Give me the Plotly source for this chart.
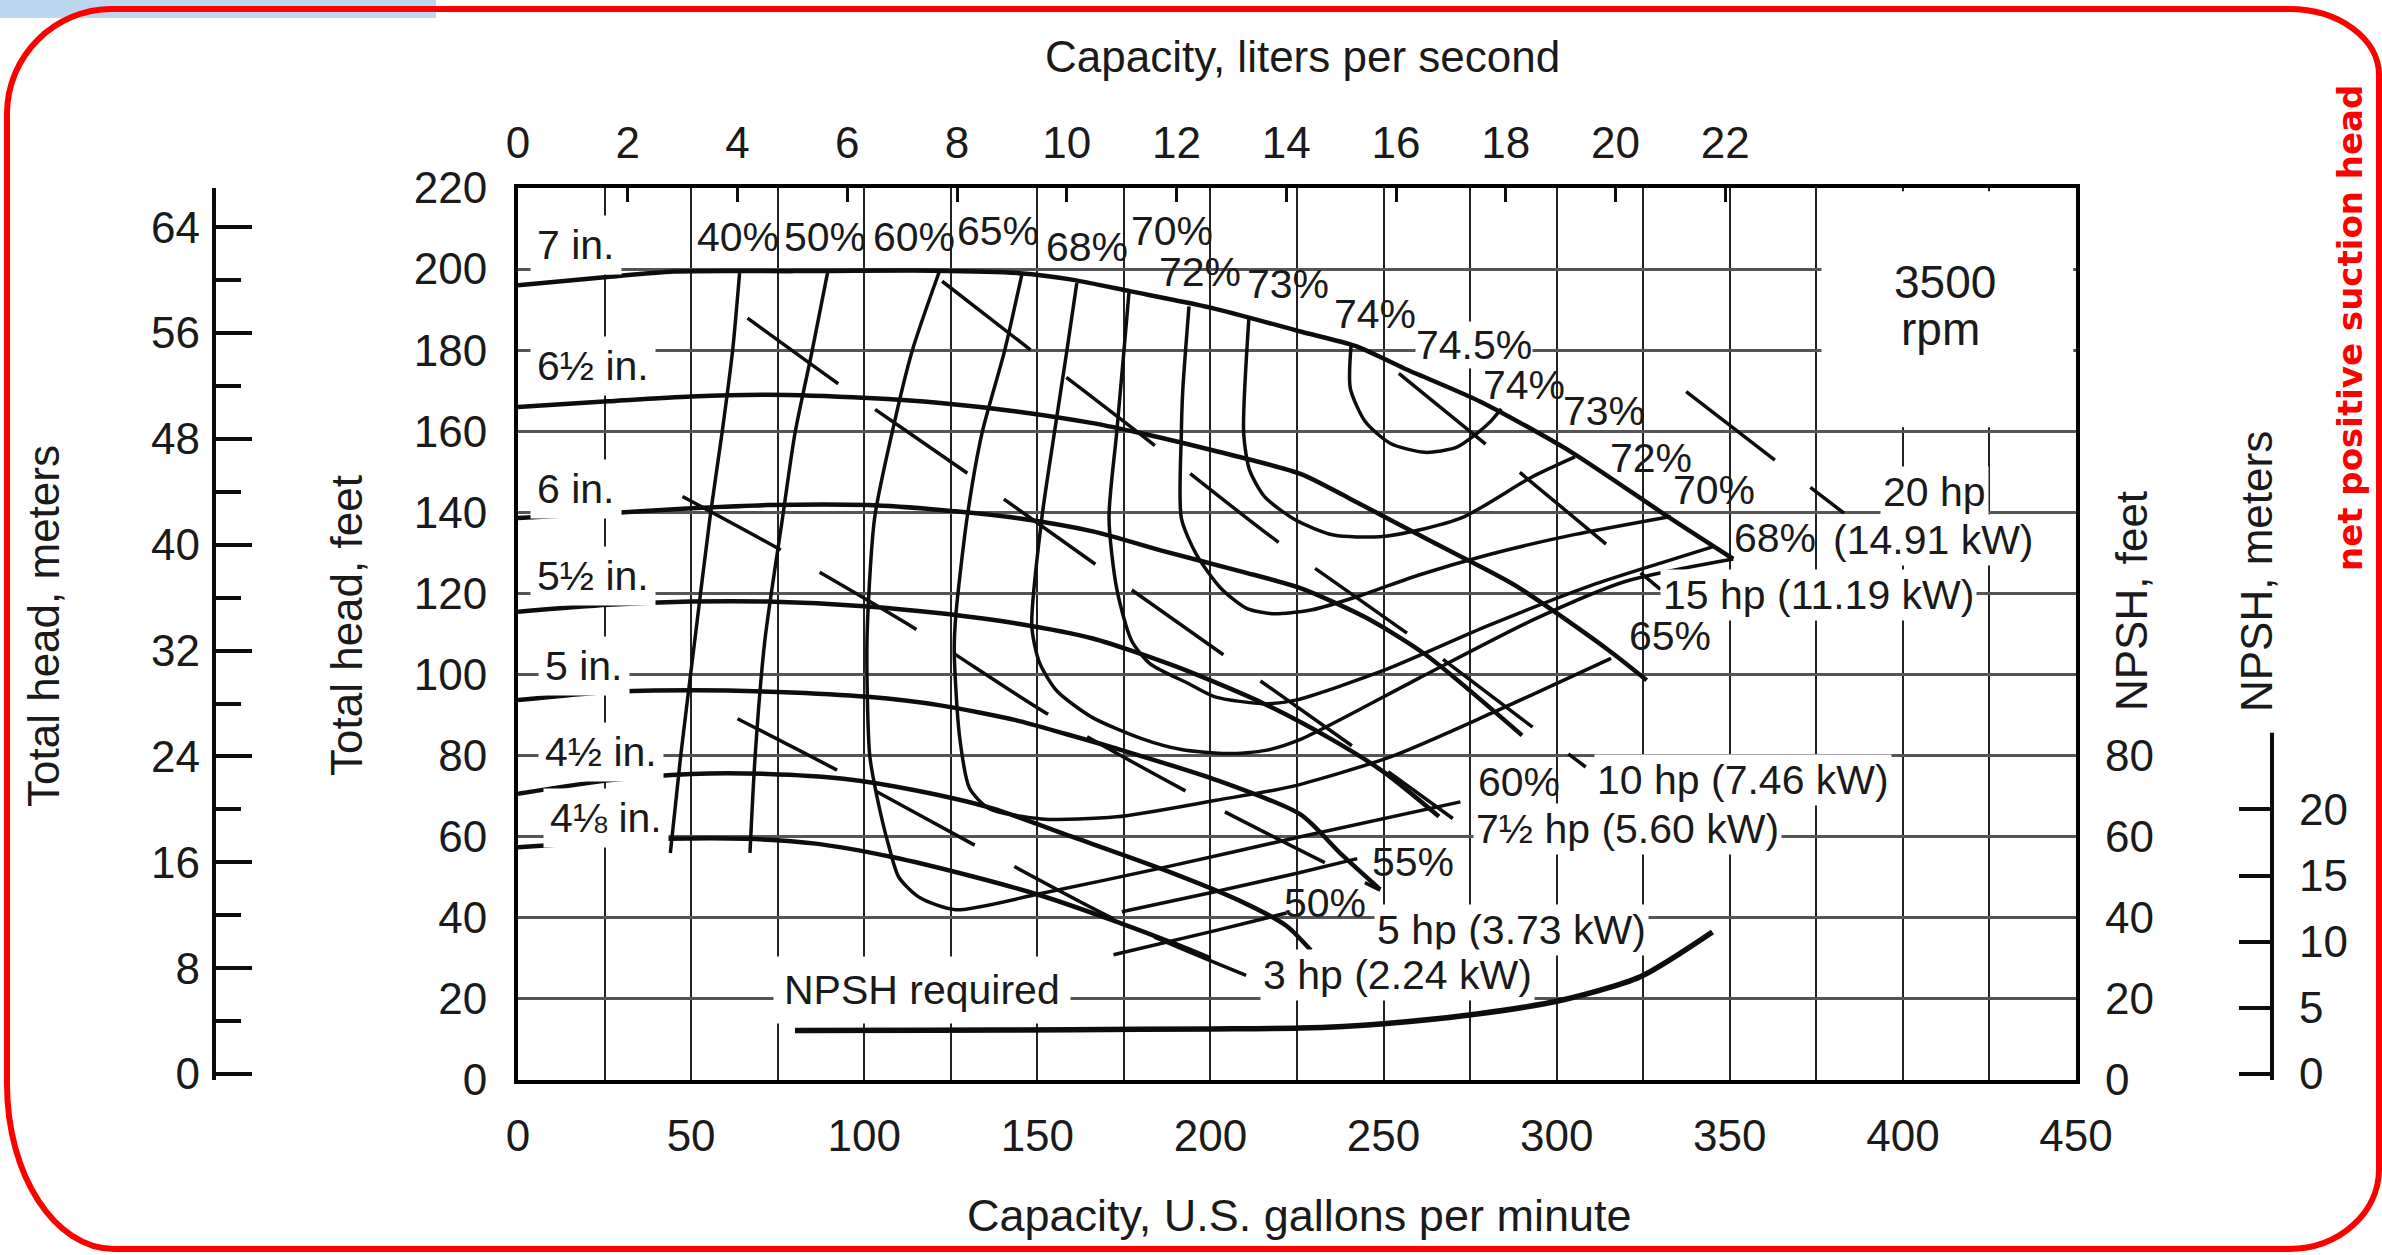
import plotly.graph_objects as go

# ---------------- data ----------------
gpm_ticks = [0, 50, 100, 150, 200, 250, 300, 350, 400, 450]
gpm_minor_grid = [25, 75, 125, 175, 225, 275, 325, 375, 425]
lps_ticks = [0, 2, 4, 6, 8, 10, 12, 14, 16, 18, 20, 22]
ft_ticks = [0, 20, 40, 60, 80, 100, 120, 140, 160, 180, 200, 220]
m_ticks = [0, 8, 16, 24, 32, 40, 48, 56, 64]
m_minor_ticks = [4, 12, 20, 28, 36, 44, 52, 60]
npsh_ft_ticks = [0, 20, 40, 60, 80]
npsh_m_ticks = [0, 5, 10, 15, 20]

# impeller head-capacity curves (gpm, ft)
d7_q = [0, 25, 45, 80, 120, 145, 160, 177, 200, 226, 242, 256, 278, 304, 332, 351]
d7_h = [196, 198, 199.4, 199.5, 199.6, 199, 197.4, 194.5, 190.5, 184.6, 181, 175.5, 167.3, 155, 139, 128.5]
d65_q = [0, 26, 50, 72, 101, 122, 144, 166, 180, 202, 226, 240, 265, 288, 315, 326]
d65_h = [166, 167.4, 168.6, 169, 168.2, 167, 164.9, 162, 159.5, 155, 149.5, 143.5, 132.3, 122, 106, 98.6]
d6_q = [0, 26, 50, 72, 101, 122, 144, 166, 187, 209, 226, 245, 262, 290]
d6_h = [138.6, 139.8, 141, 141.8, 141.8, 140.6, 138.6, 135.3, 130.3, 125.4, 121.3, 114, 105, 85]
d55_q = [0, 26, 50, 72, 101, 122, 144, 166, 190, 215, 235, 250, 266]
d55_h = [115.5, 117.2, 118, 118, 116.8, 115.1, 112.6, 108.9, 102, 93, 84, 76, 65]
d5_q = [0, 26, 50, 75, 101, 122, 144, 158, 173, 202, 226, 238, 249]
d5_h = [93.7, 95.7, 96.1, 95.7, 94.5, 92.4, 88.7, 85.4, 81.7, 73.9, 65.5, 55.5, 47]
d45_q = [0, 26, 50, 72, 94, 115, 137, 160, 187, 209, 222, 229]
d45_h = [70.6, 73.9, 75.5, 75.5, 74.3, 71.4, 67, 60, 51.7, 44, 38, 32]
d418_q = [0, 20, 43, 66, 86, 108, 130, 151, 173, 190, 200]
d418_h = [57.4, 58.5, 59.5, 59.5, 58.3, 55, 50.5, 45.5, 39, 33.5, 30]

# efficiency contours (gpm, ft)
e40_q = [64, 62, 59, 55.5, 51, 47, 44]
e40_h = [199, 180, 160, 139, 108, 80, 56]
e50_q = [89.5, 85, 80, 76.4, 71.3, 68.5, 67]
e50_h = [199.5, 180, 159.5, 138.6, 108.4, 80, 56]
e60_q = [121.7, 113.8, 108, 103, 100.8, 101.6, 103.7, 107, 110, 116, 126.4, 151, 187, 226, 272.2]
e60_h = [199.4, 179.7, 159.5, 138.6, 108.4, 80, 69.8, 58, 50, 45, 42, 46, 52.5, 60, 68.6]
e65_q = [145.5, 140.5, 134, 129.7, 126.5, 126, 127.5, 130.4, 136, 151.3, 172.9, 201.7, 223, 252, 281, 315.7]
e65_h = [198.6, 179.7, 159.5, 138.6, 115, 106, 85, 72, 67, 64.4, 64.9, 69, 72.3, 79.7, 90.4, 104]
e68_q = [161.4, 158.5, 154.9, 151.3, 148.4, 150.6, 155.6, 165.7, 180.1, 191.6, 205, 216, 226, 260, 293, 320, 351]
e68_h = [196.6, 179.7, 159.5, 138.6, 112, 103, 96, 89.5, 84.2, 81.5, 80.5, 81.3, 84, 99, 113.4, 123, 128.5]
e70_q = [176.5, 175, 172.9, 170.7, 172.9, 177.2, 182.5, 193.6, 201.3, 215.7, 224.6, 250, 280, 310, 330, 345]
e70_h = [194.5, 179.7, 159.5, 138.6, 121.3, 108.4, 102.7, 97.8, 94.5, 92.8, 93.7, 101, 112, 122, 127.5, 131.5]
e72_q = [193.8, 192, 191.6, 191.6, 196, 203, 210.3, 217.9, 229, 243.4, 260, 280, 305, 333]
e72_h = [190.8, 170, 159.5, 138.6, 129.5, 121.3, 116.4, 115, 115.9, 119.5, 124.5, 129.5, 134.5, 139]
e73_q = [211.1, 209.6, 211.3, 215.7, 224.6, 235.6, 248.9, 259.9, 273.2, 293, 305.3]
e73_h = [187.9, 159.5, 150.4, 143.8, 138.1, 134.4, 134, 135.6, 138.9, 148.8, 153.7]
e74_q = [240.6, 240.4, 244.7, 252, 262, 271, 277, 281, 284]
e74_h = [181, 170.6, 162.4, 157, 154.8, 156, 159.5, 162.5, 165.5]
e55_q = [174.4, 200, 225, 242.4]
e55_h = [41.5, 46.2, 51, 54.6]
e50b_q = [172, 201.7, 222]
e50b_h = [30.9, 36.9, 41.2]

# brake-horsepower lines (gpm, ft)
hp3_q = [63.4, 92.2, 131.1, 172.9, 210.3]
hp3_h = [89.1, 76.4, 58.3, 39.4, 25.8]
hp5_q = [47.5, 74.9, 115.3, 152.7, 200, 249]
hp5_h = [143.9, 131.2, 111, 90.4, 68, 46.8]
hp75_q = [66.3, 92.2, 129.7, 167.1, 246.2, 270]
hp75_h = [187.9, 171.9, 149.7, 127, 79.2, 64.5]
hp10_q = [122.5, 146.2, 180, 217.5, 262, 290, 308.4]
hp10_h = [197, 181.3, 159.1, 134, 107, 89, 77.2]
hp15_q = [254.4, 279.8, 330]
hp15_h = [174.3, 156.6, 121]
hp20_q = [337.4, 364.2, 383]
hp20_h = [169.8, 152.1, 139.8]

# NPSH required (gpm, ft)
npsh_q = [80, 120, 160, 200, 226, 250, 277, 301, 324, 345]
npsh_h = [12.2, 12.3, 12.4, 12.6, 12.8, 13.9, 16.3, 19.6, 25.4, 36.5]

# labels
dia_text = ["7 in.", "6½ in.", "6 in.", "5½ in.", "5 in.", "4½ in.", "4⅛ in."]
dia_q = [3.6, 3.6, 3.6, 3.6, 5.8, 5.8, 7.2]
dia_h = [206, 176, 145.8, 124.2, 102, 81, 64.5]

pct_top_text = ["40%", "50%", "60%", "65%", "68%", "70%", "72%", "73%", "74%", "74.5%"]
pct_top_q = [63.4, 88.6, 114.5, 138.7, 164.2, 189, 197, 222.5, 247.4, 276]
pct_top_h = [208, 208, 208, 209.5, 205.4, 209.3, 199.4, 196.3, 189, 181.3]

pct_right_text = ["74%", "73%", "72%", "70%", "68%", "65%", "60%", "55%", "50%"]
pct_right_q = [290.6, 313.8, 327.3, 345.3, 363, 332.6, 289, 258.5, 233]
pct_right_h = [171.5, 165, 153.4, 145.5, 133.6, 109.5, 73.5, 53.7, 43.6]

hp_text = ["20 hp", "(14.91 kW)", "15 hp (11.19 kW)", "10 hp (7.46 kW)",
           "7½ hp (5.60 kW)", "5 hp (3.73 kW)", "3 hp (2.24 kW)"]
hp_q = [409, 408.7, 375.7, 353.7, 320.4, 287, 254]
hp_h = [145.1, 133.2, 119.7, 73.9, 61.8, 36.9, 25.8]

# ---------------- layout geometry (pixels) ----------------
W, H = 2382, 1255
ML, MR, MT, MB = 100, 100, 60, 60
PW, PH = W - ML - MR, H - MT - MB


def pxx(X):
    return (X - ML) / PW


def pxy(Y):
    return (H - MB - Y) / PH


X_L, X_R, Y_T, Y_B = 518, 2076, 188, 1080
GPM_PER_LPS = 15.850323
M_RANGE = [-0.45, 66.96]

FONT = "Liberation Sans, Arial, sans-serif"
TXT = "#1a1a1a"
LINE = "#0d0d0d"

fig = go.Figure()


def curve(q, h, width, dash=None):
    fig.add_trace(go.Scatter(
        x=q, y=h, mode="lines",
        line=dict(color=LINE, width=width, shape="spline", smoothing=0.7, dash=dash),
        hoverinfo="skip", showlegend=False))


for q, h in [(d7_q, d7_h), (d65_q, d65_h), (d6_q, d6_h), (d55_q, d55_h),
             (d5_q, d5_h), (d45_q, d45_h), (d418_q, d418_h)]:
    curve(q, h, 4.5)

for q, h in [(e40_q, e40_h), (e50_q, e50_h), (e60_q, e60_h), (e65_q, e65_h),
             (e68_q, e68_h), (e70_q, e70_h), (e72_q, e72_h), (e73_q, e73_h),
             (e74_q, e74_h), (e55_q, e55_h), (e50b_q, e50b_h)]:
    curve(q, h, 3.5)

for q, h in [(hp3_q, hp3_h), (hp5_q, hp5_h), (hp75_q, hp75_h), (hp10_q, hp10_h),
             (hp15_q, hp15_h), (hp20_q, hp20_h)]:
    curve(q, h, 3.5, dash="112px,45px")

curve(npsh_q, npsh_h, 5.5)

# invisible anchors so that every secondary axis is drawn
for xa, ya in [("x2", "y"), ("x", "y2"), ("x", "y3"), ("x", "y4")]:
    fig.add_trace(go.Scatter(x=[None], y=[None], xaxis=xa, yaxis=ya, mode="markers",
                             hoverinfo="skip", showlegend=False))

ann = []


def label(q, h, text, size=41, xanchor="center", bg=None, pad=2):
    d = dict(x=q, y=h, xref="x", yref="y", text=text, showarrow=False,
             xanchor=xanchor, yanchor="middle",
             font=dict(family=FONT, size=size, color=TXT), borderpad=pad)
    if bg:
        d["bgcolor"] = bg
    ann.append(d)


for t, q, h in zip(dia_text, dia_q, dia_h):
    label(q, h, t, xanchor="left", bg="white", pad=6)
for t, q, h in zip(pct_top_text, pct_top_q, pct_top_h):
    label(q, h, t, bg="white" if t == "74.5%" else None, pad=0)
for t, q, h in zip(pct_right_text, pct_right_q, pct_right_h):
    label(q, h, t, pad=0)
for t, q, h in zip(hp_text, hp_q, hp_h):
    label(q, h, t, bg="white", pad=2)
label(116.7, 22.1, "NPSH required", bg="white", pad=10)
label(412.3, 196.7, "3500", size=46)
label(411, 185.2, "rpm", size=46)


def title(X, Y, text, angle=0, size=44, color=TXT, family=FONT, bold=False):
    ann.append(dict(x=pxx(X), y=pxy(Y), xref="paper", yref="paper",
                    text=f"<b>{text}</b>" if bold else text, showarrow=False,
                    textangle=angle, xanchor="center", yanchor="middle",
                    font=dict(family=family, size=size, color=color)))


title(1302, 56, "Capacity, liters per second")
title(1299, 1215, "Capacity, U.S. gallons per minute", size=45)
title(43, 626, "Total head, meters", angle=-90)
title(346, 626, "Total head, feet", angle=-90)
title(2131, 601, "NPSH, feet", angle=-90)
title(2256, 572, "NPSH, meters", angle=-90)
title(2350, 328, "net positive suction head", angle=-90, size=34, color="#ff0000",
      family="DejaVu Sans, sans-serif", bold=True)


# ---------------- shapes ----------------
def border_path(x0, y0, x1, y1, radii):
    k = 0.5523
    (tlx, tly), (trx, tr_y), (brx, bry), (blx, bly) = radii
    P = lambda X, Y: f"{pxx(X):.5f},{pxy(Y):.5f}"
    s = f"M {P(x0 + tlx, y0)} L {P(x1 - trx, y0)} "
    s += f"C {P(x1 - trx + k * trx, y0)} {P(x1, y0 + tr_y - k * tr_y)} {P(x1, y0 + tr_y)} "
    s += f"L {P(x1, y1 - bry)} "
    s += f"C {P(x1, y1 - bry + k * bry)} {P(x1 - brx + k * brx, y1)} {P(x1 - brx, y1)} "
    s += f"L {P(x0 + blx, y1)} "
    s += f"C {P(x0 + blx - k * blx, y1)} {P(x0, y1 - bly + k * bly)} {P(x0, y1 - bly)} "
    s += f"L {P(x0, y0 + tly)} "
    s += f"C {P(x0, y0 + tly - k * tly)} {P(x0 + tlx - k * tlx, y0)} {P(x0 + tlx, y0)} Z"
    return s


shapes = [
    dict(type="rect", xref="paper", yref="paper", x0=pxx(0), x1=pxx(436), y0=pxy(0), y1=pxy(18),
         fillcolor="#bdd7ee", line=dict(width=0), layer="below"),
    dict(type="path", xref="paper", yref="paper",
         path=border_path(7, 9, 2379, 1249, [(105, 105), (90, 66), (90, 80), (107, 165)]),
         line=dict(color="#ff0000", width=6), layer="above"),
    dict(type="rect", xref="x", yref="y", x0=376.5, x1=449.2, y0=161, y1=219.2,
         fillcolor="white", line=dict(width=0), layer="above"),
    dict(type="line", xref="paper", yref="y2", x0=pxx(214), x1=pxx(214), y0=-0.98, y1=68.7,
         line=dict(color=LINE, width=4)),
    dict(type="line", xref="paper", yref="y4", x0=pxx(2272), x1=pxx(2272), y0=-0.6, y1=25.8,
         line=dict(color=LINE, width=4)),
]

tickfont = dict(family=FONT, size=44, color=TXT)

fig.update_layout(
    width=W, height=H,
    margin=dict(l=ML, r=MR, t=MT, b=MB, autoexpand=False),
    paper_bgcolor="white", plot_bgcolor="white",
    showlegend=False,
    xaxis=dict(domain=[pxx(X_L), pxx(X_R)], range=[0, 450], tickmode="array", tickvals=gpm_ticks,
               ticks="", showgrid=True, gridcolor="#222", gridwidth=2,
               minor=dict(tickmode="array", tickvals=gpm_minor_grid, showgrid=True,
                          gridcolor="#222", gridwidth=2, ticks=""),
               showline=True, linecolor="black", linewidth=4, mirror=True, zeroline=False,
               tickfont=tickfont, ticklabelstandoff=14, automargin=False),
    yaxis=dict(domain=[pxy(Y_B), pxy(Y_T)], range=[0, 220], tickmode="array", tickvals=ft_ticks,
               ticks="", showgrid=True, gridcolor="#555", gridwidth=3,
               showline=True, linecolor="black", linewidth=4, mirror=True, zeroline=False,
               tickfont=tickfont, ticklabelstandoff=18, automargin=False),
    xaxis2=dict(overlaying="x", side="top", anchor="y", range=[0, 450 / GPM_PER_LPS],
                tickmode="array", tickvals=lps_ticks, ticks="inside", ticklen=14, tickwidth=3,
                tickcolor=LINE, showgrid=False, showline=False, zeroline=False,
                tickfont=tickfont, ticklabelstandoff=20, automargin=False),
    yaxis2=dict(overlaying="y", side="left", anchor="free", position=pxx(214), range=M_RANGE,
                tickmode="array", tickvals=m_ticks, ticks="inside", ticklen=37, tickwidth=4,
                tickcolor=LINE,
                minor=dict(tickmode="array", tickvals=m_minor_ticks, ticks="inside", ticklen=26,
                           tickwidth=4, tickcolor=LINE, showgrid=False),
                showgrid=False, showline=False, zeroline=False,
                tickfont=tickfont, ticklabelstandoff=14, automargin=False),
    yaxis3=dict(overlaying="y", side="right", anchor="x", range=[0, 220], tickmode="array",
                tickvals=npsh_ft_ticks, ticks="", showgrid=False, showline=False, zeroline=False,
                tickfont=tickfont, ticklabelstandoff=28, automargin=False),
    yaxis4=dict(overlaying="y", side="right", anchor="free", position=pxx(2272), range=M_RANGE,
                tickmode="array", tickvals=npsh_m_ticks, ticks="inside", ticklen=33, tickwidth=4,
                tickcolor=LINE, showgrid=False, showline=False, zeroline=False,
                tickfont=tickfont, ticklabelstandoff=26, automargin=False),
    annotations=ann,
    shapes=shapes,
)

fig.write_html("out.html", config={"displayModeBar": False},
               post_script="document.body.style.margin='0px';")
